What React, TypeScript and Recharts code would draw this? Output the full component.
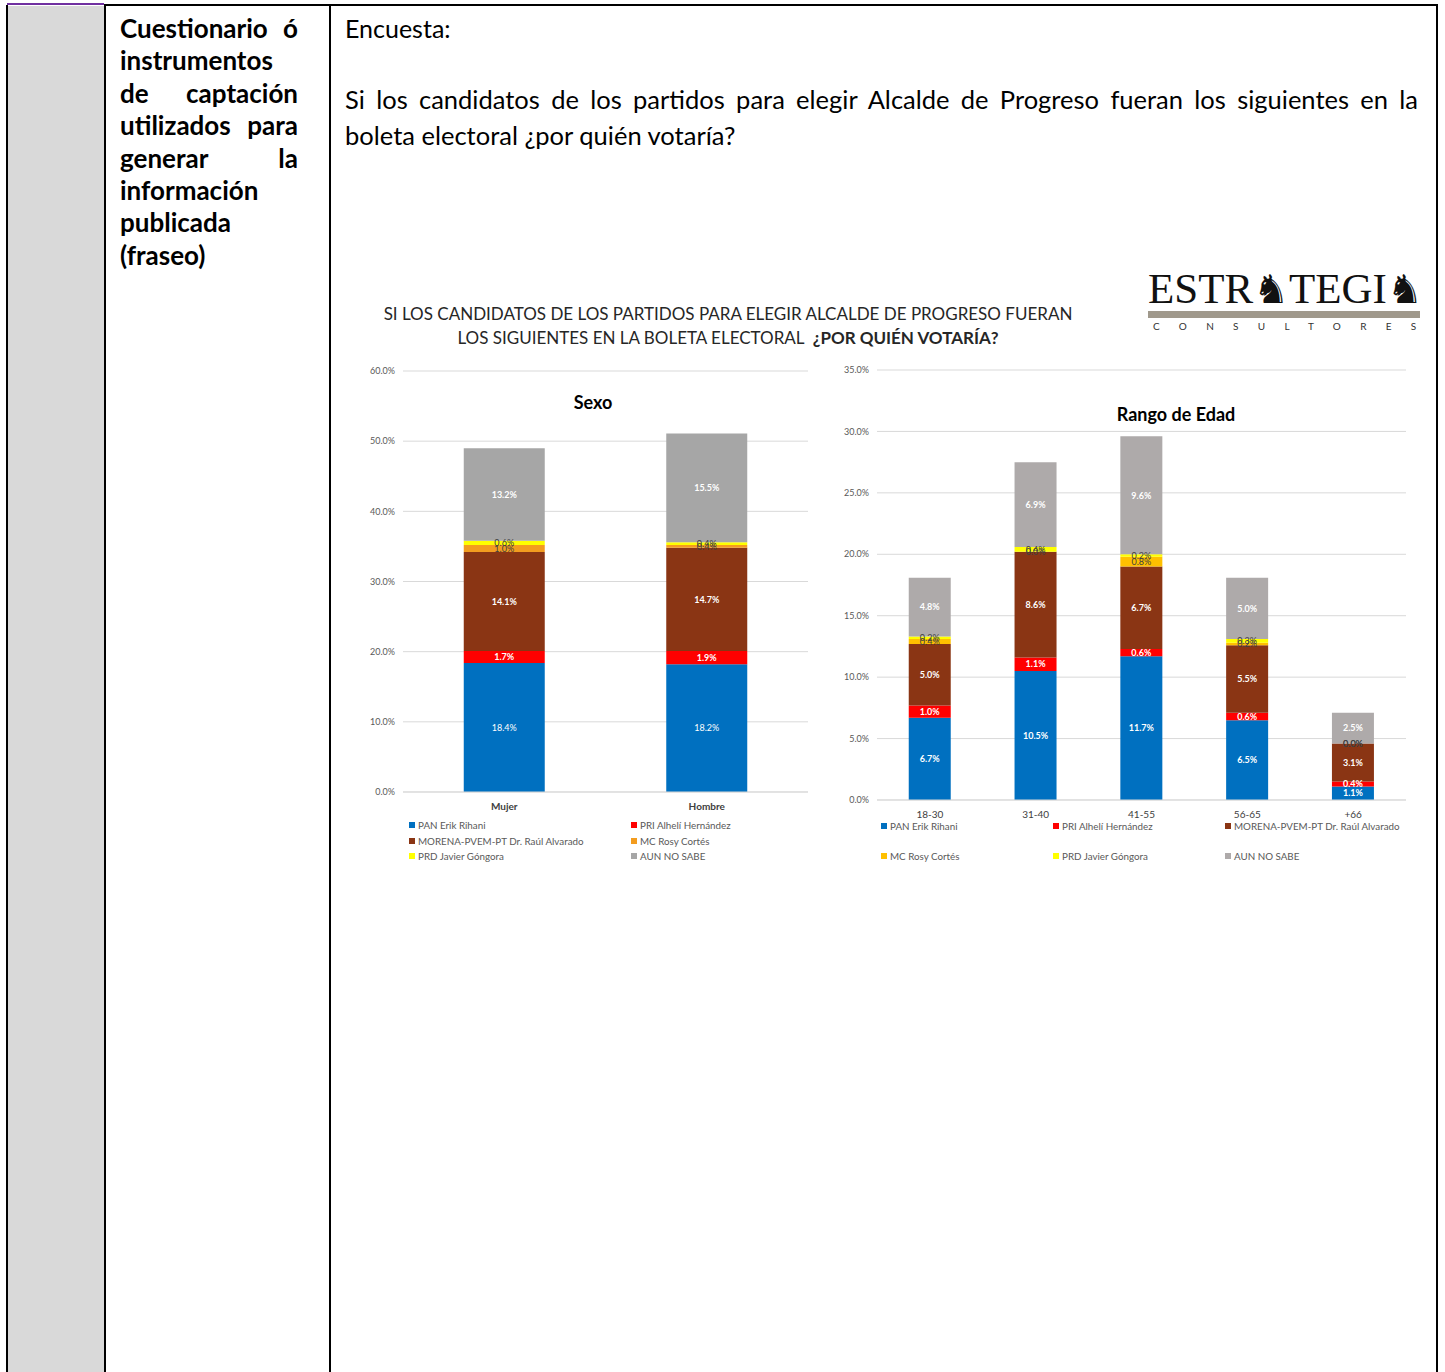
import React from "react";
import { BarChart, Bar, XAxis, YAxis, CartesianGrid, LabelList, Legend } from "recharts";

const seriesNames = [
  "PAN Erik Rihani",
  "PRI Alhelí Hernández",
  "MORENA-PVEM-PT Dr. Raúl Alvarado",
  "MC Rosy Cortés",
  "PRD Javier Góngora",
  "AUN NO SABE",
];
const seriesKeys = ["pan", "pri", "morena", "mc", "prd", "aun"];

const sexoCategories = ["Mujer", "Hombre"];
const sexoPan = [18.4, 18.2];
const sexoPri = [1.7, 1.9];
const sexoMorena = [14.1, 14.7];
const sexoMc = [1.0, 0.4];
const sexoPrd = [0.6, 0.4];
const sexoAun = [13.2, 15.5];
const sexoTicks = [0, 10, 20, 30, 40, 50, 60];

const edadCategories = ["18-30", "31-40", "41-55", "56-65", "+66"];
const edadPan = [6.7, 10.5, 11.7, 6.5, 1.1];
const edadPri = [1.0, 1.1, 0.6, 0.6, 0.4];
const edadMorena = [5.0, 8.6, 6.7, 5.5, 3.1];
const edadMc = [0.4, 0.0, 0.8, 0.2, 0.0];
const edadPrd = [0.2, 0.4, 0.2, 0.3, 0.0];
const edadAun = [4.8, 6.9, 9.6, 5.0, 2.5];
const edadTicks = [0, 5, 10, 15, 20, 25, 30, 35];

const sexoColors = ["#0070C0", "#FF0000", "#8A3514", "#F39C1F", "#FFFF00", "#A6A6A6"];
const edadColors = ["#0070C0", "#FF0000", "#8A3514", "#FFC000", "#FFFF00", "#AEAAAA"];

// label look per series: big segments white, thin ones dark
const labelFill = ["#fff", "#fff", "#fff", "#404040", "#404040", "#fff"];

const build = (cats: string[], cols: number[][]) =>
  cats.map((name, i) => {
    const row: any = { name };
    seriesKeys.forEach((k, j) => (row[k] = cols[j][i]));
    return row;
  });

const sexoData = build(sexoCategories, [sexoPan, sexoPri, sexoMorena, sexoMc, sexoPrd, sexoAun]);
const edadData = build(edadCategories, [edadPan, edadPri, edadMorena, edadMc, edadPrd, edadAun]);

const FONT = "Lato, 'Open Sans', sans-serif";
const pct = (v: any) => `${Number(v).toFixed(1)}%`;

function legendContent(colors: string[], columns: number, colWidth: number, rowGap: number, top: number) {
  return () => (
    <div
      style={{
        display: "grid",
        gridTemplateColumns: `repeat(${columns}, ${colWidth}px)`,
        rowGap,
        marginTop: top,
        fontFamily: FONT,
        fontSize: 9.8,
        lineHeight: "12px",
        color: "#595959",
        textAlign: "left",
      }}
    >
      {seriesNames.map((n, i) => (
        <div key={n} style={{ whiteSpace: "nowrap" }}>
          <span
            style={{
              display: "inline-block",
              width: 6,
              height: 6,
              background: colors[i],
              marginRight: 3,
              verticalAlign: "1px",
            }}
          />
          {n}
        </div>
      ))}
    </div>
  );
}

function StackChart({
  data,
  colors,
  ticks,
  width,
  height,
  margin,
  yWidth,
  xHeight,
  xTickMargin,
  legendHeight,
  legendLeft,
  legendCols,
  legendColWidth,
  legendRowGap,
  legendTop,
  xBold,
  panBold,
}: any) {
  return (
    <BarChart
      width={width}
      height={height}
      data={data}
      margin={margin}
      barCategoryGap="30%"
      style={{ fontFamily: FONT }}
    >
      <CartesianGrid vertical={false} stroke="#D9D9D9" />
      <XAxis
        dataKey="name"
        height={xHeight}
        tickLine={false}
        tickMargin={xTickMargin}
        axisLine={{ stroke: "#D9D9D9" }}
        tick={{ fontSize: 10, fill: "#404040", fontWeight: xBold ? 700 : 400 }}
        interval={0}
      />
      <YAxis
        width={yWidth}
        domain={[ticks[0], ticks[ticks.length - 1]]}
        ticks={ticks}
        interval={0}
        tickFormatter={pct}
        axisLine={false}
        tickLine={false}
        tick={{ fontSize: 9, fill: "#595959" }}
      />
      <Legend
        verticalAlign="bottom"
        height={legendHeight}
        wrapperStyle={{ left: legendLeft, width: width - legendLeft }}
        content={legendContent(colors, legendCols, legendColWidth, legendRowGap, legendTop)}
      />
      {seriesKeys.map((k, i) => (
        <Bar
          key={k}
          dataKey={k}
          name={seriesNames[i]}
          stackId="a"
          fill={colors[i]}
          minPointSize={i === 3 || i === 4 ? 0.1 : 0}
          isAnimationActive={false}
        >
          <LabelList
            dataKey={k}
            position="center"
            formatter={pct}
            fill={labelFill[i]}
            fontSize={9}
            fontWeight={i === 3 || i === 4 || (i === 0 && !panBold) ? 400 : 700}
          />
        </Bar>
      ))}
    </BarChart>
  );
}

const line = (text: string, justify: boolean) => (
  <div style={{ textAlign: "justify", textAlignLast: justify ? "justify" : "left", height: 32.4, whiteSpace: "nowrap" }}>
    {text}
  </div>
);

export default function App() {
  return (
    <div
      style={{
        position: "absolute",
        left: 0,
        top: 0,
        width: 1445,
        height: 1372,
        background: "#fff",
        fontFamily: FONT,
        overflow: "hidden",
      }}
    >
      {/* table frame */}
      <div style={{ position: "absolute", left: 8, top: 6, width: 96, height: 1366, background: "#D9D9D9" }} />
      <div style={{ position: "absolute", left: 7, top: 3, width: 97, height: 1.5, background: "#7030A0" }} />
      <div style={{ position: "absolute", left: 6, top: 5, width: 2, height: 1367, background: "#000" }} />
      <div style={{ position: "absolute", left: 104, top: 4, width: 1334, height: 2, background: "#000" }} />
      <div style={{ position: "absolute", left: 104, top: 4, width: 2, height: 1368, background: "#000" }} />
      <div style={{ position: "absolute", left: 329, top: 4, width: 2, height: 1368, background: "#000" }} />
      <div style={{ position: "absolute", left: 1436, top: 4, width: 2, height: 1368, background: "#000" }} />

      {/* left label column */}
      <div
        style={{
          position: "absolute",
          left: 120,
          top: 12,
          width: 178,
          fontSize: 26,
          fontWeight: 700,
          lineHeight: "32.4px",
          color: "#000",
        }}
      >
        {line("Cuestionario ó", true)}
        {line("instrumentos", false)}
        {line("de captación", true)}
        {line("utilizados para", true)}
        {line("generar la", true)}
        {line("información", false)}
        {line("publicada", false)}
        {line("(fraseo)", false)}
      </div>

      {/* content column */}
      <div style={{ position: "absolute", left: 345, top: 13, fontSize: 25, lineHeight: "30px", color: "#000" }}>
        Encuesta:
      </div>
      <div style={{ position: "absolute", left: 345, top: 81, width: 1073, fontSize: 25.5, lineHeight: "36px", color: "#000" }}>
        <div style={{ textAlign: "justify", textAlignLast: "justify", whiteSpace: "nowrap" }}>
          Si los candidatos de los partidos para elegir Alcalde de Progreso fueran los siguientes en la
        </div>
        <div>boleta electoral ¿por quién votaría?</div>
      </div>

      {/* chart heading */}
      <div
        style={{
          position: "absolute",
          left: 340,
          top: 302,
          width: 776,
          textAlign: "center",
          fontSize: 17,
          lineHeight: "24px",
          color: "#262626",
        }}
      >
        <div>SI LOS CANDIDATOS DE LOS PARTIDOS PARA ELEGIR ALCALDE DE PROGRESO FUERAN</div>
        <div>
          LOS SIGUIENTES EN LA BOLETA ELECTORAL&nbsp; <b>¿POR QUIÉN VOTARÍA?</b>
        </div>
      </div>

      {/* logo */}
      <div
        style={{
          position: "absolute",
          left: 1148,
          top: 265,
          width: 280,
          fontFamily: "'Liberation Serif', 'DejaVu Serif', serif",
          fontSize: 43,
          lineHeight: "48px",
          color: "#111",
          whiteSpace: "nowrap",
          textAlign: "left",
        }}
      >
        ESTR<span style={{ fontFamily: "'DejaVu Sans'", fontSize: 40 }}>♞</span>TEGI
        <span style={{ fontFamily: "'DejaVu Sans'", fontSize: 40 }}>♞</span>
      </div>
      <div style={{ position: "absolute", left: 1148, top: 311, width: 272, height: 7, background: "#A0998C" }} />
      <div
        style={{
          position: "absolute",
          left: 1153,
          top: 319,
          width: 280,
          fontSize: 10,
          lineHeight: "14px",
          letterSpacing: 19.3,
          color: "#333",
          whiteSpace: "nowrap",
        }}
      >
        CONSULTORES
      </div>

      {/* Sexo chart */}
      <div style={{ position: "absolute", left: 340, top: 360 }}>
        <StackChart
          data={sexoData}
          colors={sexoColors}
          ticks={sexoTicks}
          width={480}
          height={509}
          margin={{ top: 11, right: 12, left: 8, bottom: 5 }}
          yWidth={55}
          xHeight={24}
          xTickMargin={5}
          legendHeight={48}
          legendLeft={69}
          legendCols={2}
          legendColWidth={222}
          legendRowGap={3.5}
          legendTop={3}
          xBold
          panBold={false}
        />
      </div>
      <div
        style={{
          position: "absolute",
          left: 493,
          top: 390,
          width: 200,
          textAlign: "center",
          fontSize: 18,
          fontWeight: 700,
          lineHeight: "24px",
          color: "#000",
        }}
      >
        Sexo
      </div>

      {/* Rango de Edad chart */}
      <div style={{ position: "absolute", left: 825, top: 360 }}>
        <StackChart
          data={edadData}
          colors={edadColors}
          ticks={edadTicks}
          width={590}
          height={508}
          margin={{ top: 10, right: 9, left: 2, bottom: 5 }}
          yWidth={50}
          xHeight={20}
          xTickMargin={5}
          legendHeight={43}
          legendLeft={56}
          legendCols={3}
          legendColWidth={172}
          legendRowGap={18}
          legendTop={0}
          xBold={false}
          panBold
        />
      </div>
      <div
        style={{
          position: "absolute",
          left: 1026,
          top: 402,
          width: 300,
          textAlign: "center",
          fontSize: 18,
          fontWeight: 700,
          lineHeight: "24px",
          color: "#000",
        }}
      >
        Rango de Edad
      </div>
    </div>
  );
}
